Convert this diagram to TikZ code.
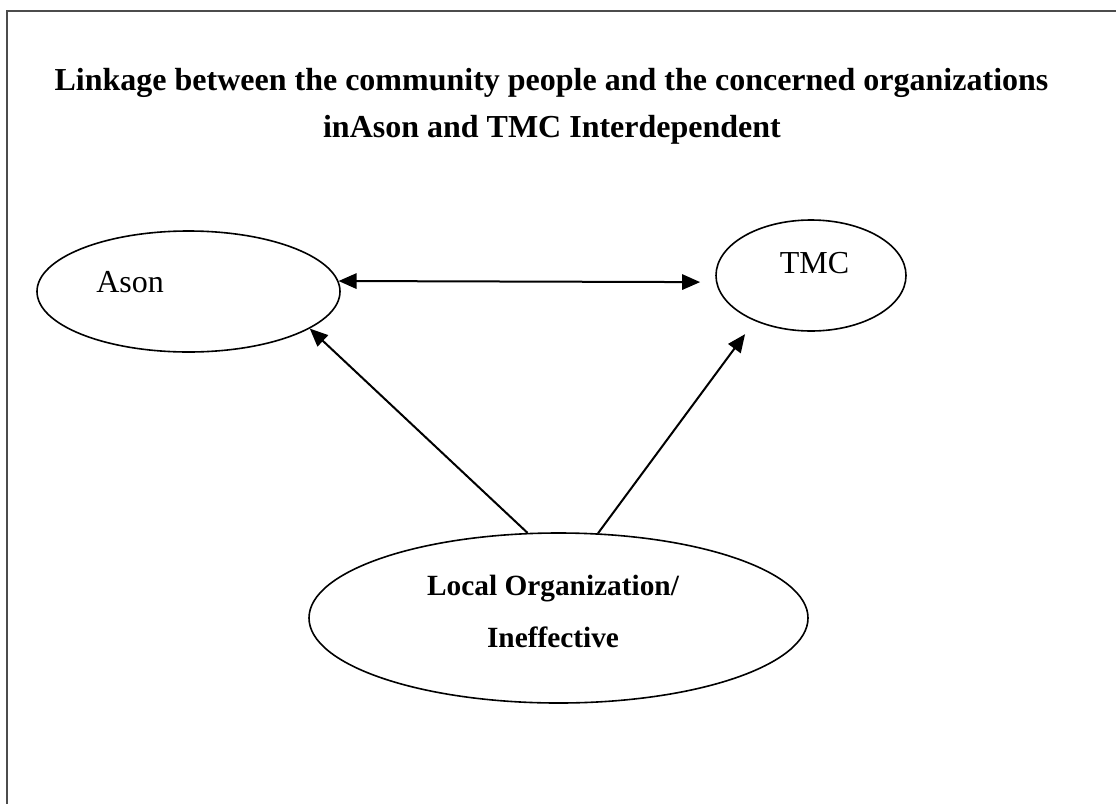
\documentclass[tikz,border=0pt]{standalone}
\usepackage{fontspec}
\setmainfont{Liberation Serif}
\usetikzlibrary{arrows.meta,shapes}
\newcommand{\arrw}{1.5pt}
\newcommand{\ellw}{1.2pt}

\begin{document}
\begin{tikzpicture}[x=0.75pt,y=-0.75pt]
    \tikzset{oval/.style = {draw, ellipse, inner sep = 0pt, line width = \ellw},
             txt/.style = {inner sep = 0pt, font = \fontsize{24}{28}\selectfont},
             btxt/.style = {txt, font = \fontsize{24}{28}\selectfont\bfseries},
             head/.tip = {Triangle[length=13.5pt, width=11.5pt]},
             link/.style = {line width = \arrw, -head}}
    \useasboundingbox (0,0) rectangle (1116,803);
    %\draw[help lines] (0,0) grid (1116,803);
    % frame, cut at the right and at the bottom
    \draw[black!70, line width=1.5pt] (1130,11) -- (7,11) -- (7,815);
    % title
    \node[btxt, anchor=base] (title1) at (551.5,90) {Linkage between the community people and the concerned organizations};
    \node[btxt, anchor=base] (title2) at (552,137) {inAson and TMC Interdependent};
    % the three organizations
    \node[oval, minimum width=227.25pt, minimum height=90.75pt] (ason) at (188.5,291.5) {};
    \node[oval, minimum width=142.5pt, minimum height=83.25pt] (tmc) at (811,275.5) {};
    \node[oval, minimum width=374.25pt, minimum height=127.5pt] (local) at (558.5,618) {};
    \node[txt, anchor=base west] (asontext) at (96,292) {Ason};
    \node[txt, anchor=base] (tmctext) at (814.5,273) {TMC};
    \node[btxt, font=\fontsize{22}{26}\selectfont\bfseries, anchor=base] (localtext1) at (553,595) {Local Organization/};
    \node[btxt, font=\fontsize{22}{26}\selectfont\bfseries, anchor=base] (localtext2) at (553,647) {Ineffective};
    % links
    \draw[link, head-head, shorten >=11.8pt] (ason.4) -- (tmc.184);
    \draw[link] (local.110) -- (ason.-17);
    \draw[link, shorten >=12.2pt] (local.65) -- (tmc.219);
\end{tikzpicture}
\end{document}
